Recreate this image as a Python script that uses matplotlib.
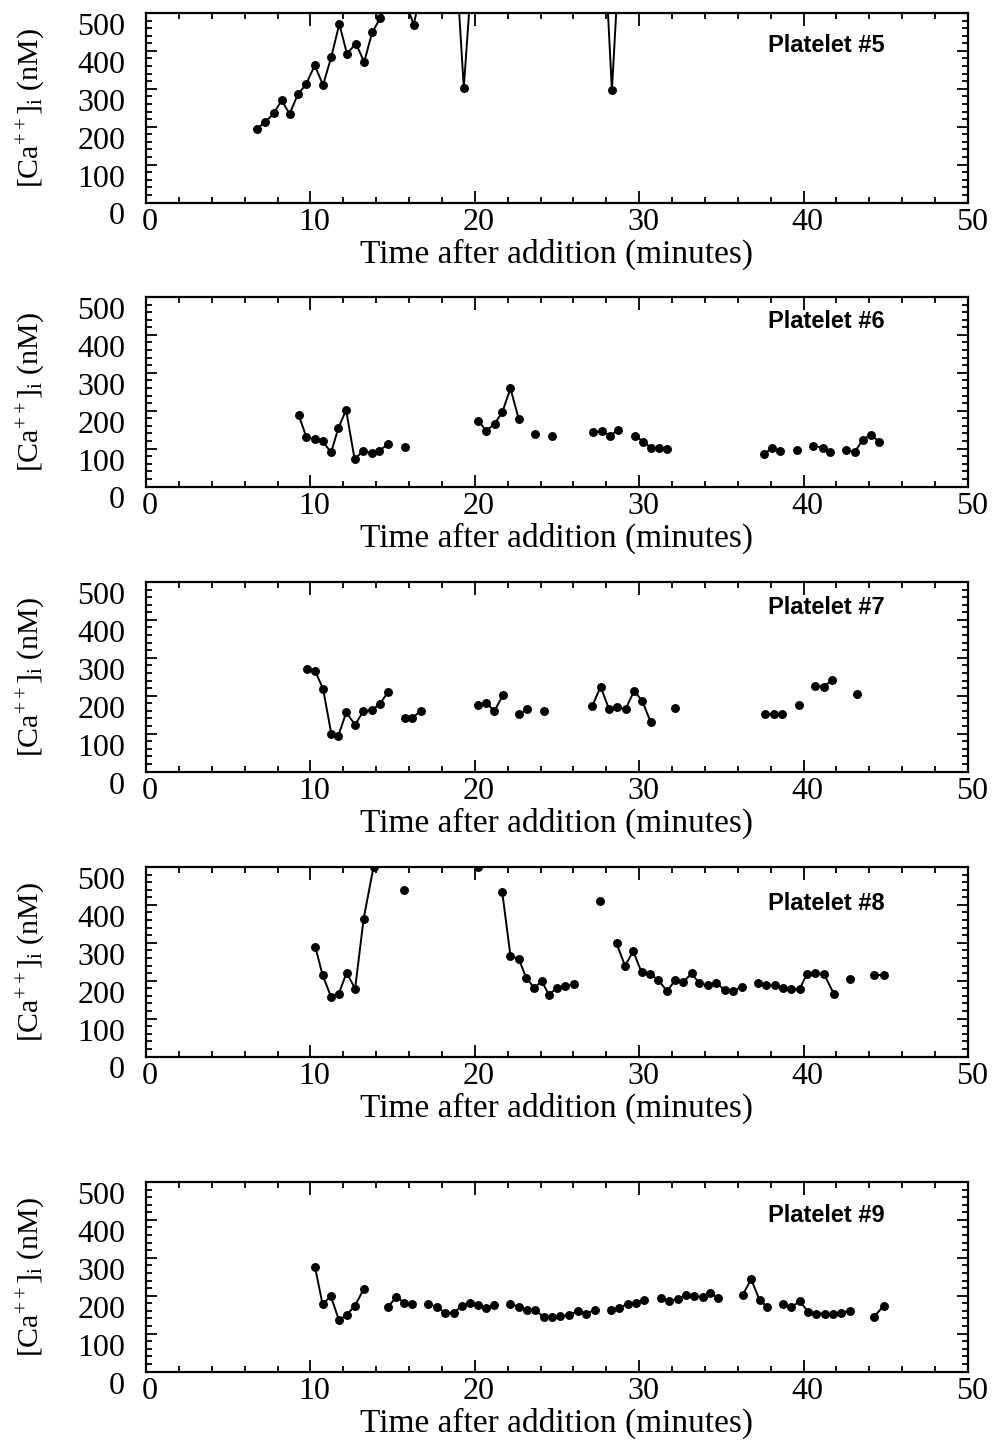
import matplotlib
matplotlib.use('Agg')
import matplotlib.pyplot as plt
import matplotlib.transforms as mtransforms
from matplotlib.ticker import MultipleLocator

plt.rcParams['font.family'] = ['Liberation Serif', 'DejaVu Serif']
plt.rcParams['mathtext.fontset'] = 'custom'
plt.rcParams['mathtext.rm'] = 'Liberation Serif'
plt.rcParams['mathtext.it'] = 'Liberation Serif:italic'

# ---------------- data (time in minutes, [Ca++]i in nM) ----------------
# Platelet #5 (values above 500 are off-scale estimates)
p5_t = [[6.75, 7.25, 7.76, 8.26, 8.73, 9.23, 9.74, 10.26, 10.77, 11.27, 11.76,
         12.22, 12.77, 13.27, 13.76, 14.24, 14.74, 15.78, 16.28, 16.78, 18.83,
         19.33, 19.83, 27.84, 28.34, 28.84]]
p5_ca = [[195, 212, 235, 270, 233, 285, 312, 362, 310, 384, 471,
          393, 419, 371, 449, 486, 530, 535, 468, 568, 655,
          303, 611, 721, 296, 688]]

# Platelet #6
p6_t = [[9.28, 9.76, 10.26, 10.75, 11.26, 11.70, 12.17, 12.69, 13.19, 13.73, 14.19, 14.73],
        [15.75],
        [20.2, 20.7, 21.2, 21.67, 22.17, 22.67],
        [23.67], [24.67],
        [27.21, 27.72, 28.22, 28.73],
        [29.74, 30.26, 30.72, 31.23, 31.7],
        [37.61, 38.08, 38.55],
        [39.6],
        [40.6, 41.15, 41.6],
        [42.6, 43.1, 43.6, 44.1, 44.6]]
p6_ca = [[189, 130, 125, 119, 90, 154, 202, 72, 93, 88, 94, 112],
         [103],
         [174, 147, 165, 196, 259, 178],
         [139], [132],
         [143, 147, 134, 150],
         [134, 118, 102, 102, 99],
         [87, 101, 94],
         [97],
         [108, 102, 90],
         [97, 90, 124, 137, 117]]

# Platelet #7
p7_t = [[9.80, 10.3, 10.77, 11.27, 11.69, 12.18, 12.72, 13.21, 13.75, 14.21, 14.75],
        [15.74, 16.2, 16.7],
        [20.2, 20.7, 21.18, 21.72],
        [22.69, 23.2],
        [24.2],
        [27.14, 27.65, 28.16, 28.67, 29.18, 29.69, 30.2, 30.69],
        [32.2],
        [37.67, 38.18, 38.69],
        [39.71],
        [40.67, 41.23, 41.74],
        [43.27]]
p7_ca = [[271, 264, 218, 100, 93, 156, 123, 159, 162, 178, 211],
         [141, 141, 160],
         [175, 182, 159, 202],
         [151, 165],
         [159],
         [172, 224, 165, 169, 165, 213, 185, 131],
         [167],
         [153, 153, 153],
         [176],
         [226, 224, 241],
         [204]]

# Platelet #8
p8_t = [[10.3, 10.74, 11.25, 11.73, 12.2, 12.72, 13.24, 13.84],
        [15.72],
        [20.2],
        [21.67, 22.17, 22.67, 23.12, 23.62, 24.07, 24.5, 25.0, 25.5, 26.05],
        [27.63],
        [28.62, 29.14, 29.63, 30.14, 30.65, 31.17, 31.69, 32.2, 32.67, 33.19, 33.66,
         34.17, 34.69, 35.19, 35.7, 36.23],
        [37.24, 37.72, 38.23, 38.74, 39.26, 39.77, 40.19, 40.7, 41.25, 41.83],
        [42.8],
        [44.3, 44.92]]
p8_ca = [[289, 215, 158, 166, 221, 179, 364, 500],
         [440],
         [500],
         [433, 265, 258, 208, 181, 199, 163, 181, 186, 191],
         [409],
         [299, 239, 278, 223, 217, 202, 172, 202, 196, 219, 193,
          188, 195, 175, 172, 184],
         [193, 188, 188, 181, 177, 179, 217, 221, 217, 166],
         [205],
         [215, 215]]

# Platelet #9
p9_t = [[10.28, 10.74, 11.24, 11.74, 12.2, 12.7, 13.24],
        [14.73, 15.23, 15.69, 16.17],
        [17.18, 17.68, 18.18, 18.72, 19.22, 19.72, 20.2, 20.7, 21.16],
        [22.17, 22.67, 23.18, 23.68, 24.18, 24.69, 25.2, 25.75, 26.27, 26.78, 27.3],
        [28.27, 28.78, 29.29, 29.8, 30.3],
        [31.32, 31.83, 32.34, 32.85, 33.35, 33.87, 34.31, 34.82],
        [36.3, 36.81, 37.32, 37.79],
        [38.74, 39.25, 39.76, 40.27, 40.77, 41.28, 41.79, 42.3, 42.8],
        [44.29, 44.87]]
p9_ca = [[276, 177, 199, 135, 149, 173, 217],
         [171, 197, 182, 177],
         [177, 171, 155, 155, 173, 182, 176, 167, 176],
         [179, 170, 162, 162, 144, 144, 146, 149, 160, 153, 162],
         [162, 167, 179, 182, 189],
         [193, 186, 191, 202, 199, 197, 207, 193],
         [202, 244, 188, 171],
         [177, 169, 186, 158, 153, 153, 151, 155, 160],
         [145, 173]]

labels = ['Platelet #5', 'Platelet #6', 'Platelet #7', 'Platelet #8', 'Platelet #9']
series = [(p5_t, p5_ca), (p6_t, p6_ca), (p7_t, p7_ca), (p8_t, p8_ca), (p9_t, p9_ca)]
x_ticks = [0, 10, 20, 30, 40, 50]
y_ticks = [0, 100, 200, 300, 400, 500]
xlabel = 'Time after addition (minutes)'
ylabel = r'[Ca$^{++}$]$_{\mathrm{i}}$ (nM)'

# ---------------- layout ----------------
W, H = 997, 1440
fig = plt.figure(figsize=(W / 100, H / 100), dpi=100)
tops = [13, 297, 582, 867, 1182]
height = 189.5
left, right = 146, 968
label_dy = [32, 25, 26, 36, 33]

ydown = mtransforms.ScaledTranslation(0, -0.11, fig.dpi_scale_trans)
xright = mtransforms.ScaledTranslation(0.04, 0, fig.dpi_scale_trans)

for i, ((ts, cs), name) in enumerate(zip(series, labels)):
    top = tops[i]
    ax = fig.add_axes([left / W, 1 - (top + height) / H, (right - left) / W, height / H])
    for t, c in zip(ts, cs):
        ax.plot(t, c, '-o', color='black', lw=1.4, ms=5.4, clip_on=True)
    ax.set_xlim(0, 50)
    ax.set_ylim(0, 500)
    ax.set_xticks(x_ticks)
    ax.set_yticks(y_ticks)
    ax.xaxis.set_minor_locator(MultipleLocator(2))
    ax.yaxis.set_minor_locator(MultipleLocator(20))
    ax.tick_params(which='both', direction='in', top=True, right=True, width=1.3,
                   colors='black')
    ax.tick_params(axis='x', which='major', length=9, pad=4, labelsize=23)
    ax.tick_params(axis='y', which='major', length=8, pad=15, labelsize=23)
    ax.tick_params(which='minor', length=4.5)
    for sp in ax.spines.values():
        sp.set_linewidth(1.6)
    for lab in ax.get_yticklabels():
        lab.set_transform(lab.get_transform() + ydown)
    for lab in ax.get_xticklabels():
        lab.set_transform(lab.get_transform() + xright)
    ax.set_xlabel(xlabel, fontsize=24, labelpad=1)
    ax.set_ylabel(ylabel, fontsize=21.5)
    ax.yaxis.set_label_coords(-0.121, 0.5)
    ax.text(0.757, 1 - label_dy[i] / height, name, transform=ax.transAxes,
            ha='left', va='center', fontsize=17, fontweight='bold',
            family=['Liberation Sans', 'DejaVu Sans'])

fig.savefig('out.png', dpi=100)
